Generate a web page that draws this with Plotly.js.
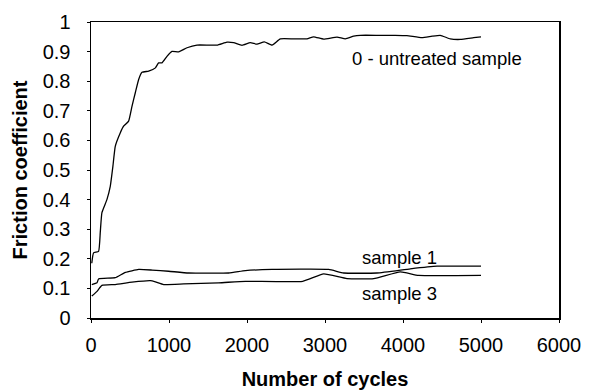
<!DOCTYPE html>
<html>
<head>
<meta charset="utf-8">
<script src="https://cdn.plot.ly/plotly-3.0.1.min.js"></script>
<style>html,body{margin:0;padding:0;background:#fff;}#chart{width:590px;height:390px;}</style>
</head>
<body>
<div id="chart"></div>
<script>
var untreatedX = [10,33,97,119,140,204,247,281,311,376,418,482,526,568,611,654,739,826,867,910,974,1038,1124,1231,1359,1615,1744,1829,1936,2042,2128,2222,2321,2427,2598,2769,2854,2982,3154,3261,3367,3452,3700,3900,4050,4243,4372,4478,4606,4735,4906,5000];
var untreatedY = [0.185,0.22,0.225,0.29,0.356,0.40,0.445,0.513,0.58,0.626,0.648,0.665,0.716,0.761,0.806,0.830,0.834,0.845,0.862,0.862,0.884,0.901,0.899,0.913,0.922,0.922,0.932,0.930,0.921,0.930,0.925,0.933,0.922,0.943,0.943,0.943,0.950,0.942,0.949,0.943,0.952,0.955,0.955,0.955,0.954,0.947,0.952,0.955,0.943,0.941,0.947,0.950];

var sample1X = [10,77,97,311,440,611,782,995,1252,1765,1979,2321,3047,3239,3666,4094,4436,5000];
var sample1Y = [0.113,0.119,0.132,0.136,0.154,0.164,0.162,0.158,0.152,0.152,0.160,0.164,0.164,0.152,0.152,0.166,0.175,0.175];

var sample3X = [10,77,140,311,526,761,826,932,1188,1637,1979,2714,2983,3282,3624,3965,4200,5000];
var sample3Y = [0.074,0.090,0.110,0.113,0.121,0.126,0.122,0.113,0.115,0.119,0.124,0.124,0.149,0.133,0.133,0.156,0.144,0.144];

var xTicks = [0,1000,2000,3000,4000,5000,6000];
var yTicks = [0,0.1,0.2,0.3,0.4,0.5,0.6,0.7,0.8,0.9,1];
var yTickText = ['0','0.1','0.2','0.3','0.4','0.5','0.6','0.7','0.8','0.9','1'];

var labels = [
  {text:'0 - untreated sample', x:4433, y:0.878},
  {text:'sample 1', x:3952, y:0.203},
  {text:'sample 3', x:3952, y:0.082}
];

var lineStyle = {color:'#000', width:1.3, shape:'spline', smoothing:0.4};
var traces = [
  {x:untreatedX, y:untreatedY, mode:'lines', line:lineStyle, hoverinfo:'skip'},
  {x:sample1X, y:sample1Y, mode:'lines', line:lineStyle, hoverinfo:'skip'},
  {x:sample3X, y:sample3Y, mode:'lines', line:lineStyle, hoverinfo:'skip'}
];

var fam = '"Liberation Sans", Arial, sans-serif';

var layout = {
  width:590, height:390,
  margin:{l:91, r:31, t:22, b:71.5},
  paper_bgcolor:'#fff', plot_bgcolor:'#fff',
  showlegend:false,
  font:{family:fam, size:18, color:'#000'},
  xaxis:{
    range:[0,6000], tickvals:xTicks, ticktext:xTicks.map(String),
    showgrid:false, zeroline:false,
    showline:true, mirror:true, linecolor:'#000', linewidth:1.5,
    ticks:'outside', ticklen:3, tickcolor:'#000',
    tickfont:{family:fam, size:20, color:'#000'},
    ticklabelstandoff:5,
    title:{text:'<b>Number of cycles</b>', font:{family:fam, size:20, color:'#000'}, standoff:21}
  },
  yaxis:{
    range:[0,1], tickvals:yTicks, ticktext:yTickText,
    showgrid:false, zeroline:false,
    showline:true, mirror:true, linecolor:'#000', linewidth:1.5,
    ticks:'outside', ticklen:3, tickcolor:'#000',
    tickfont:{family:fam, size:20, color:'#000'},
    ticklabelstandoff:12,
    title:{text:'<b>Friction coefficient</b>', font:{family:fam, size:20, color:'#000'}, standoff:9}
  },
  annotations: labels.map(function(l){
    return {text:l.text, x:l.x, y:l.y, xref:'x', yref:'y', showarrow:false,
            font:{family:fam, size:18.5, color:'#000'}};
  })
};

Plotly.newPlot('chart', traces, layout, {staticPlot:true, displayModeBar:false});
</script>
</body>
</html>
